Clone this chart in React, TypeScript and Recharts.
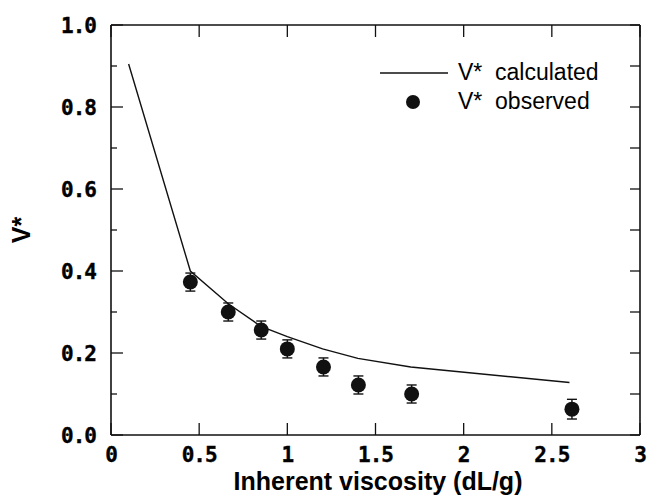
import {
  ComposedChart,
  Line,
  Scatter,
  ErrorBar,
  XAxis,
  YAxis,
  Legend,
} from "recharts";

// calculated curve (piecewise linear)
const calculatedX = [0.1, 0.45, 0.665, 0.85, 1.0, 1.2, 1.4, 1.7, 2.6];
const calculatedV = [0.905, 0.4, 0.32, 0.265, 0.24, 0.21, 0.187, 0.166, 0.128];

// observed points with error bars
const observedX = [0.45, 0.665, 0.852, 1.0, 1.205, 1.403, 1.705, 2.614];
const observedV = [0.373, 0.3, 0.256, 0.21, 0.166, 0.122, 0.1, 0.063];
const observedErr = [0.022, 0.022, 0.022, 0.022, 0.022, 0.022, 0.022, 0.024];

const xTicks = [0, 0.5, 1, 1.5, 2, 2.5, 3];
const yTicks = [0, 0.1, 0.2, 0.3, 0.4, 0.5, 0.6, 0.7, 0.8, 0.9, 1.0];

const calculatedData = calculatedX.map((x, i) => ({ x, v: calculatedV[i] }));
const observedData = observedX.map((x, i) => ({
  x,
  v: observedV[i],
  err: observedErr[i],
}));

const TICK_FONT = {
  fontFamily: "DejaVu Sans Mono",
  fontWeight: 700,
  fontSize: 21,
  letterSpacing: -1,
  fill: "#000",
  stroke: "#000",
  strokeWidth: 0.4,
};
const INK = "#111";

const BottomTick = ({ x, y, payload }: any) => (
  <g>
    <line x1={x} y1={y} x2={x} y2={y - 12} stroke={INK} strokeWidth={1.3} />
    <text x={x} y={y + 27} textAnchor="middle" {...TICK_FONT}>
      {String(payload.value)}
    </text>
  </g>
);

const TopTick = ({ x, y }: any) => (
  <line x1={x} y1={y} x2={x} y2={y + 12} stroke={INK} strokeWidth={1.3} />
);

const LeftTick = ({ x, y, payload }: any) => {
  const major = Math.round(payload.value * 10) % 2 === 0;
  return (
    <g>
      <line x1={x} y1={y} x2={x + (major ? 12 : 6)} y2={y} stroke={INK} strokeWidth={1.3} />
      {major && (
        <text x={x - 15} y={y} dy="0.36em" textAnchor="end" {...TICK_FONT}>
          {payload.value.toFixed(1)}
        </text>
      )}
    </g>
  );
};

const RightTick = ({ x, y }: any) => (
  <line x1={x} y1={y} x2={x - 10} y2={y} stroke={INK} strokeWidth={1.3} />
);

const LegendBox = () => (
  <div
    style={{
      fontFamily: "Liberation Sans, Arial, sans-serif",
      fontSize: 23,
      lineHeight: "29px",
      color: "#000",
      whiteSpace: "pre",
    }}
  >
    <div style={{ display: "flex", alignItems: "center" }}>
      <svg width={84} height={20}>
        <line x1={6} y1={10} x2={74} y2={10} stroke={INK} strokeWidth={1.3} />
      </svg>
      <span>V*  calculated</span>
    </div>
    <div style={{ display: "flex", alignItems: "center" }}>
      <svg width={84} height={20}>
        <circle cx={39} cy={10} r={7} fill={INK} />
      </svg>
      <span>V*  observed</span>
    </div>
  </div>
);

export default function App() {
  return (
    <div style={{ position: "absolute", left: 0, top: 0, background: "#fff" }}>
      <ComposedChart
        width={650}
        height={498}
        margin={{ top: 24, right: 9, bottom: 33, left: 51 }}
      >
        <XAxis
          xAxisId="b"
          type="number"
          dataKey="x"
          domain={[0, 3]}
          ticks={xTicks}
          height={30}
          tickSize={0}
          tickMargin={0}
          tickLine={false}
          tick={BottomTick}
          axisLine={{ stroke: INK, strokeWidth: 1.6 }}
          allowDataOverflow
        />
        <XAxis
          xAxisId="t"
          orientation="top"
          type="number"
          dataKey="x"
          domain={[0, 3]}
          ticks={xTicks}
          height={1}
          tickSize={0}
          tickMargin={0}
          tickLine={false}
          tick={TopTick}
          axisLine={{ stroke: INK, strokeWidth: 1.6 }}
          allowDataOverflow
        />
        <YAxis
          yAxisId="l"
          type="number"
          domain={[0, 1]}
          ticks={yTicks}
          width={60}
          tickSize={0}
          tickMargin={0}
          tickLine={false}
          tick={LeftTick}
          axisLine={{ stroke: INK, strokeWidth: 1.6 }}
          allowDataOverflow
        />
        <YAxis
          yAxisId="r"
          orientation="right"
          type="number"
          domain={[0, 1]}
          ticks={yTicks}
          width={1}
          tickSize={0}
          tickMargin={0}
          tickLine={false}
          tick={RightTick}
          axisLine={{ stroke: INK, strokeWidth: 1.6 }}
          allowDataOverflow
        />
        <Line
          xAxisId="b"
          yAxisId="l"
          data={calculatedData}
          dataKey="v"
          type="linear"
          stroke={INK}
          strokeWidth={1.4}
          dot={false}
          isAnimationActive={false}
        />
        <Scatter
          xAxisId="b"
          yAxisId="l"
          data={observedData}
          dataKey="v"
          fill={INK}
          isAnimationActive={false}
          shape={(p: any) => <circle cx={p.cx} cy={p.cy} r={7.5} fill={INK} />}
        >
          <ErrorBar
            dataKey="err"
            direction="y"
            width={5}
            stroke={INK}
            strokeWidth={1.4}
            isAnimationActive={false}
          />
        </Scatter>
        <Legend
          layout="vertical"
          align="center"
          verticalAlign="middle"
          content={LegendBox}
          wrapperStyle={{ left: 374, top: 58, width: 270 }}
        />
        <text
          x={0}
          y={0}
          transform="translate(30 230) rotate(-90)"
          textAnchor="middle"
          fontFamily="Liberation Sans, Arial, sans-serif"
          fontWeight={700}
          fontSize={25}
          fill="#000"
        >
          V*
        </text>
        <text
          x={378}
          y={490}
          textAnchor="middle"
          fontFamily="Liberation Sans, Arial, sans-serif"
          fontWeight={700}
          fontSize={25}
          fill="#000"
        >
          Inherent viscosity (dL/g)
        </text>
      </ComposedChart>
    </div>
  );
}
